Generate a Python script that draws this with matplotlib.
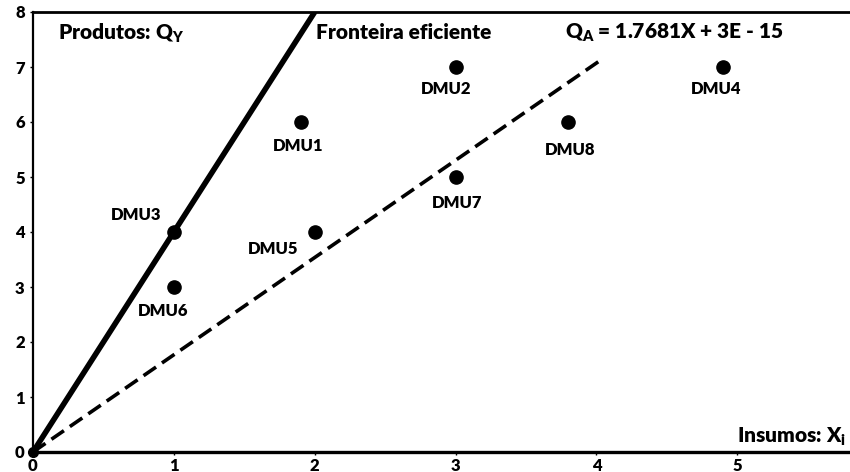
import matplotlib
matplotlib.use("Agg")
import matplotlib.pyplot as plt

plt.rcParams.update({
    "font.family": ["Lato", "DejaVu Sans"],
    "font.weight": "bold",
    "mathtext.fontset": "custom",
    "mathtext.rm": "Lato:bold",
    "mathtext.bf": "Lato:bold",
    "mathtext.it": "Lato:bold",
})

# DMU data (inputs X, outputs Q)
DMU_LABELS = ["DMU1", "DMU2", "DMU3", "DMU4", "DMU5", "DMU6", "DMU7", "DMU8"]
DMU_X      = [1.9, 3.0, 1.0, 4.9, 2.0, 1.0, 3.0, 3.8]
DMU_Y      = [6.0, 7.0, 4.0, 7.0, 4.0, 3.0, 5.0, 6.0]

# efficient frontier through origin and DMU3, and the average regression line
FRONT_X = [0.0, 2.0]
FRONT_Y = [0.0, 8.0]
REG_SLOPE = 1.7681
REG_X = [0.0, 4.05]

X_TICKS = [0, 1, 2, 3, 4, 5]
Y_TICKS = [0, 1, 2, 3, 4, 5, 6, 7, 8]

# label offsets (points) relative to each dot
LABEL_OFFSETS = {
    "DMU1": (-2, -17), "DMU2": (-7, -16), "DMU3": (-27, 12), "DMU4": (-5, -16),
    "DMU5": (-30, -12), "DMU6": (-8, -17), "DMU7": (1, -19), "DMU8": (1, -20),
}

fig = plt.figure(figsize=(8.5, 4.72), dpi=100)
ax = fig.add_axes([33 / 850, 20 / 472, 1 - 33 / 850, 440 / 472])

ax.plot(FRONT_X, FRONT_Y, color="black", lw=4.0, solid_capstyle="butt", zorder=3)
ax.plot(REG_X, [REG_SLOPE * x for x in REG_X], color="black", lw=2.6,
        dashes=(4.2, 2.0), zorder=3)
ax.plot([0], [0], "o", color="black", ms=7, zorder=4, clip_on=False)

ax.plot(DMU_X, DMU_Y, "o", color="black", ms=9.5, ls="none", zorder=5)
for lbl, x, y in zip(DMU_LABELS, DMU_X, DMU_Y):
    dx, dy = LABEL_OFFSETS[lbl]
    ax.annotate(lbl, (x, y), xytext=(dx, dy), textcoords="offset points",
                ha="center", va="center", fontsize=12, fontweight="heavy")

ax.text(0.18, 7.62, r"Produtos: Q$_\mathregular{Y}$", fontsize=15, fontweight="heavy",
        ha="left", va="center")
ax.text(2.01, 7.62, "Fronteira eficiente", fontsize=15, fontweight="heavy",
        ha="left", va="center")
ax.text(3.78, 7.62, r"Q$_\mathregular{A}$ = 1.7681X + 3E - 15", fontsize=15,
        fontweight="heavy", ha="left", va="center")
ax.text(5.0, 0.28, r"Insumos: X$_\mathregular{i}$", fontsize=15, fontweight="heavy",
        ha="left", va="center", clip_on=False)

ax.set_xlim(0, 5.8)
ax.set_ylim(0, 8)
ax.set_xticks(X_TICKS)
ax.set_yticks(Y_TICKS)
ax.tick_params(axis="x", length=2, width=1, pad=2, labelsize=12)
ax.tick_params(axis="y", length=2, width=1, pad=4, labelsize=12)
for lab in ax.get_xticklabels() + ax.get_yticklabels():
    lab.set_fontweight("heavy")

ax.spines["right"].set_visible(False)
ax.spines["left"].set_linewidth(1.6)
ax.spines["bottom"].set_linewidth(2.4)
ax.spines["top"].set_linewidth(2.0)

fig.savefig("out.png", dpi=100, facecolor="white")
